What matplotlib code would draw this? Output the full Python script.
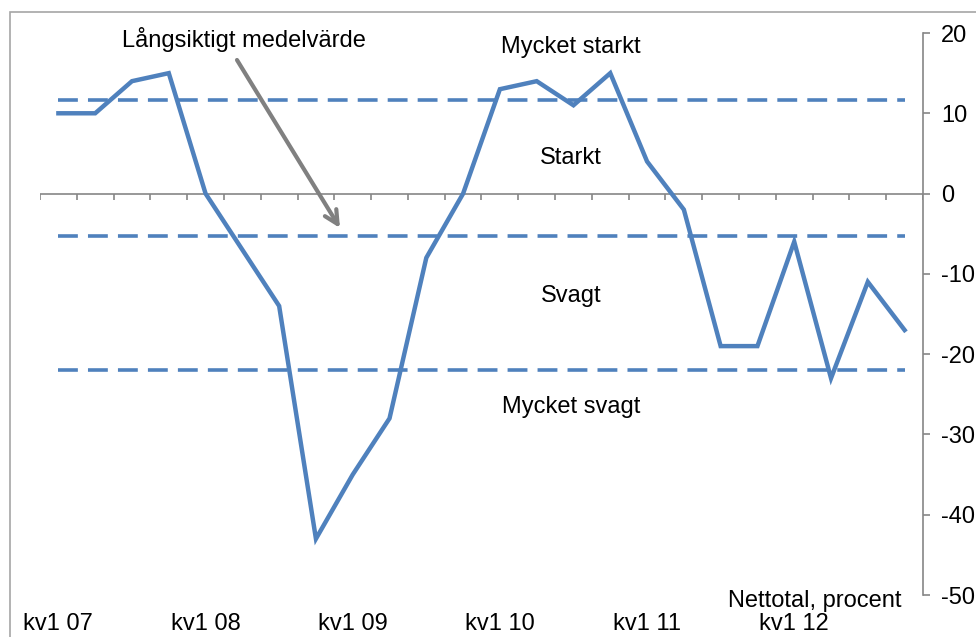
import matplotlib.pyplot as plt
from matplotlib.patches import Rectangle

plt.rcParams['font.family'] = ['Liberation Sans', 'DejaVu Sans']

# nettotal per kvartal, kv1 07 - kv4 12
kvartal = ["kv%d %02d" % (q, y) for y in range(7, 13) for q in range(1, 5)]
nettotal = [10, 10, 14, 15, 0, -7, -14, -43, -35, -28, -8, 0,
            13, 14, 11, 15, 4, -2, -19, -19, -6, -23, -11, -17]

# gränser mellan zonerna (långsiktigt medelvärde +/- avvikelse)
granser = [11.6, -5.3, -22.0]
zoner = ["Mycket starkt", "Starkt", "Svagt", "Mycket svagt"]
zon_y = [47, 158, 296, 407]  # pixelrad för zonernas text

y_ticks = [20, 10, 0, -10, -20, -30, -40, -50]

blue = '#4F81BD'
grey = '#868686'
fs = 17

fig = plt.figure(figsize=(9.76, 6.37), dpi=100)
ax = fig.add_axes([40/976, 1 - 595/637, 883/976, 562/637])

x = list(range(len(nettotal)))
ax.plot(x, nettotal, color=blue, lw=3.2, solid_joinstyle='miter', zorder=3)
for g in granser:
    ax.plot([x[0], x[-1]], [g, g], color=blue, lw=2.6, ls=(0, (5.5, 2.8)), zorder=2)

ax.set_xlim(-0.5, len(nettotal) - 0.5)
ax.set_ylim(-50, 20)

# kategoriaxel vid noll med små streck
ax.axhline(0, color=grey, lw=1.2, zorder=1)
ax.vlines([i - 0.5 for i in range(len(nettotal) + 1)], -0.8, 0, color=grey, lw=1.2)

for s in ['top', 'left', 'bottom']:
    ax.spines[s].set_visible(False)
ax.spines['right'].set_color(grey)
ax.spines['right'].set_linewidth(1.2)
ax.yaxis.tick_right()
ax.set_yticks(y_ticks)
ax.set_yticklabels([str(v) for v in y_ticks])
ax.tick_params(axis='y', direction='out', length=5, color=grey, width=1.2,
               labelsize=fs, pad=8)
ax.set_xticks(x[::4])
ax.set_xticklabels(kvartal[::4])
ax.tick_params(axis='x', length=0, labelsize=fs, pad=13)

def px(xp, yp):
    return xp / 976, 1 - yp / 637

for namn, yp in zip(zoner, zon_y):
    fig.text(*px(571, yp), namn, fontsize=fs, ha='center', va='center')
fig.text(*px(902, 601), "Nettotal, procent", fontsize=fs, ha='right', va='center')
fig.text(*px(244, 40), "Långsiktigt medelvärde", fontsize=fs, ha='center', va='center')

ax.annotate("", xy=px(340, 228), xytext=px(237, 60),
            xycoords='figure fraction', textcoords='figure fraction',
            arrowprops=dict(arrowstyle='->', color='#808080', lw=3,
                            mutation_scale=24, shrinkA=0, shrinkB=0))

# ram runt diagrammet
fig.patches.append(Rectangle((10/976, -0.1), 2, 1 - 12/637 + 0.1,
                             transform=fig.transFigure, fill=False,
                             edgecolor='#A6A6A6', lw=1.2))

fig.savefig('out.png', dpi=100)
